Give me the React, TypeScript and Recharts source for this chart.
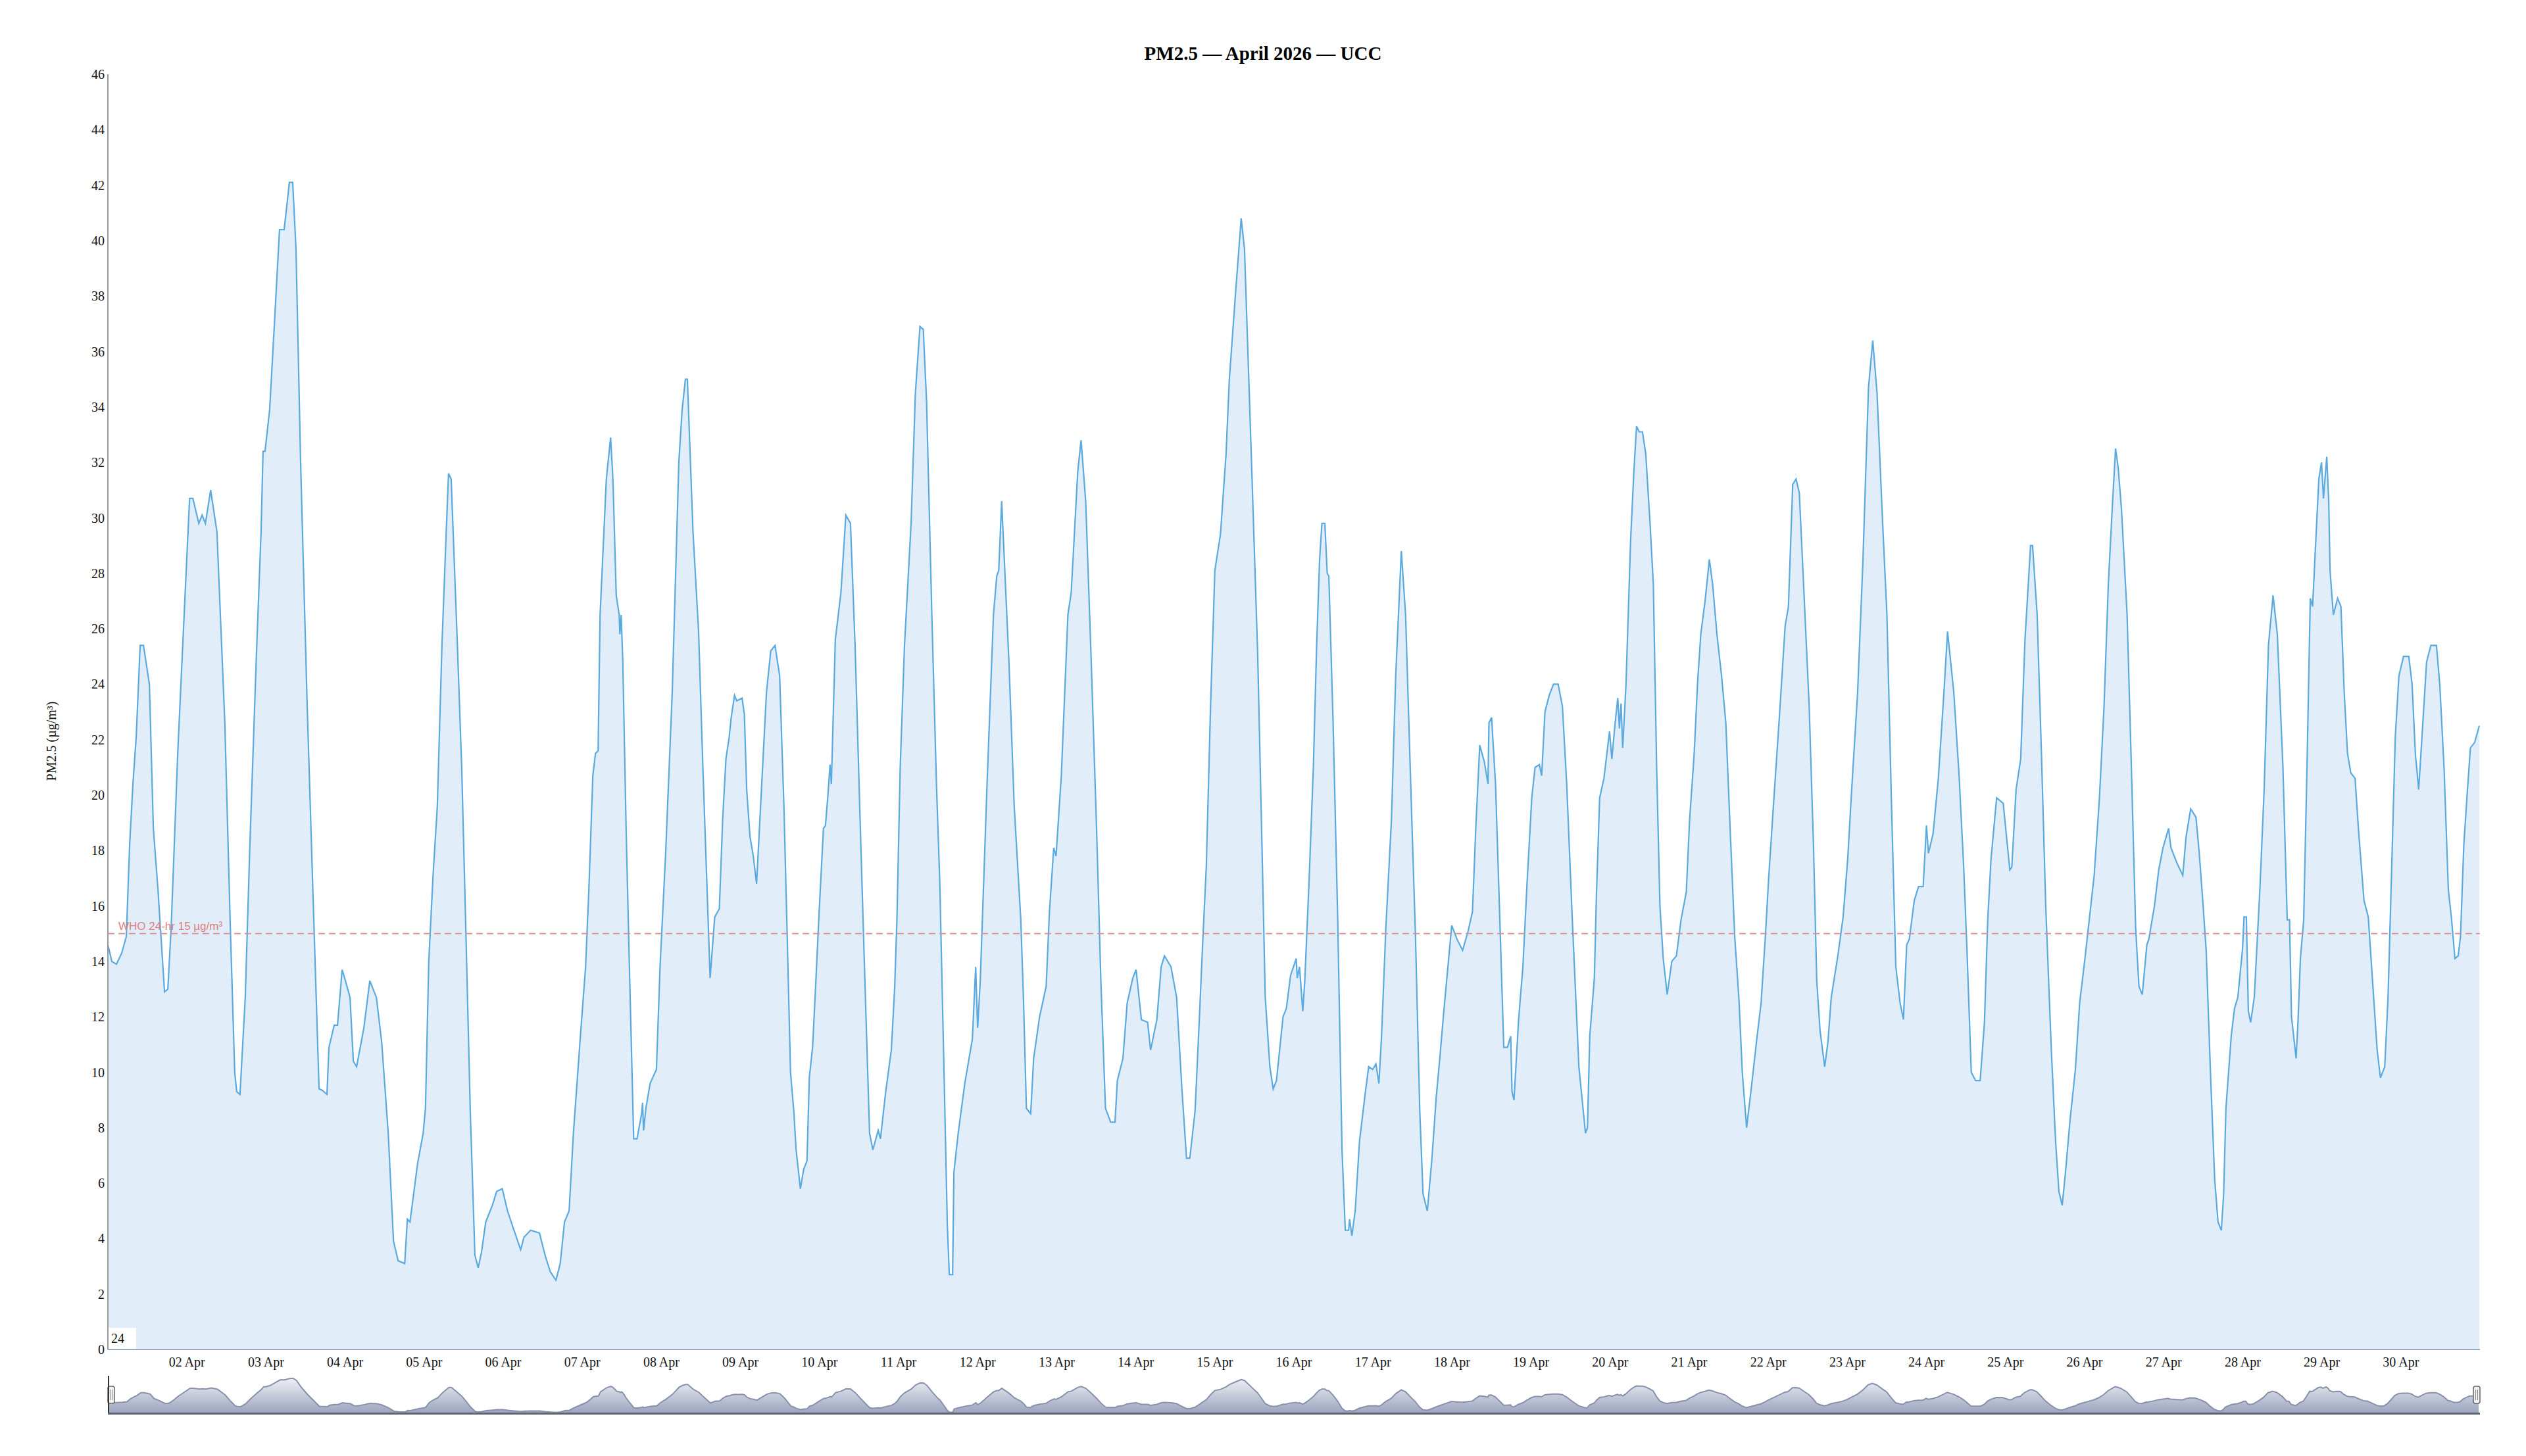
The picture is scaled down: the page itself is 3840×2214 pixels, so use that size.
import React from 'react'
import { AreaChart, Area, XAxis, YAxis, ReferenceLine, Brush } from 'recharts'

// readings as [hours since 01 Apr 00:00, PM2.5 µg/m³]
const apr01to04: [number, number][] = [
  [0, 14.6], [1.2, 14.0], [2.6, 13.9], [4.2, 14.3], [5.6, 14.9], [6.6, 18.2], [7.6, 20.4], [8.6, 22.1],
  [9.8, 25.4], [10.8, 25.4], [12.6, 24.0], [13.8, 18.8], [15.2, 16.6], [17.2, 12.9], [18.2, 13.0],
  [19.2, 15.2], [21.2, 21.5], [22.6, 25.1], [24.8, 30.7], [25.8, 30.7], [27.6, 29.8], [28.6, 30.1],
  [29.6, 29.8], [31.2, 31.0], [33.1, 29.5], [35.5, 22.6], [37.1, 15.5], [38.5, 10.0], [39.1, 9.3],
  [40.1, 9.2], [41.7, 12.7], [43.1, 18.2], [45.1, 25.1], [46.5, 29.5], [47.1, 32.4], [47.7, 32.4],
  [49.1, 33.9], [50.5, 36.9], [52.1, 40.4], [53.5, 40.4], [55.1, 42.1], [56.1, 42.1], [57.1, 39.7],
  [58.5, 32.0], [60.5, 23.2], [62.5, 15.5], [64.1, 9.4], [65.1, 9.35], [66.5, 9.2], [67.1, 10.9],
  [68.7, 11.7], [69.7, 11.7], [71.1, 13.7], [72.1, 13.3], [73.5, 12.7], [74.5, 10.4], [75.5, 10.2],
  [77.7, 11.6], [79.5, 13.3], [81.5, 12.7], [83.1, 11.1], [85.1, 7.8], [86.7, 3.9], [88.1, 3.2],
  [90.1, 3.1], [90.9, 4.7], [91.7, 4.6], [94.0, 6.7], [95.7, 7.8],
]

const apr05to08: [number, number][] = [
  [96.4, 8.7], [97.4, 14.0], [98.7, 17.1], [100.0, 19.6], [101.4, 25.4], [102.7, 29.5], [103.4, 31.6],
  [104.2, 31.4], [106.0, 25.7], [107.4, 21.0], [108.7, 14.9], [110.0, 8.6], [111.4, 3.4], [112.4, 2.95],
  [113.4, 3.5], [114.7, 4.6], [116.7, 5.2], [118.0, 5.7], [119.7, 5.8], [121.3, 5.0], [122.7, 4.5],
  [124.0, 4.05], [125.3, 3.6], [126.3, 4.05], [128.3, 4.3], [131.0, 4.2], [132.7, 3.4], [134.3, 2.8],
  [136.0, 2.5], [137.3, 3.1], [138.6, 4.6], [140.0, 5.0], [141.3, 7.8], [143.3, 11.1], [145.0, 13.8],
  [146.0, 16.6], [147.2, 20.7], [148.0, 21.5], [148.8, 21.6], [149.4, 26.5], [151.3, 31.4], [152.6, 32.9],
  [153.3, 31.4], [154.3, 27.2], [155.2, 26.5], [155.4, 25.8], [155.8, 26.5], [156.3, 24.8], [157.3, 18.8],
  [158.3, 13.8], [159.6, 7.6], [160.6, 7.6], [162.0, 8.5], [162.3, 8.9], [162.6, 7.9], [163.3, 8.7],
  [164.6, 9.6], [166.5, 10.1], [167.6, 13.8], [169.3, 17.9], [171.3, 23.7], [173.3, 32.0], [174.3, 33.9],
  [175.3, 35.0], [175.9, 35.0], [177.6, 29.5], [179.3, 25.9], [180.6, 21.0], [182.8, 13.4], [184.2, 15.6],
  [185.6, 15.9], [186.6, 19.1], [187.6, 21.3], [188.6, 22.1], [189.2, 22.8], [190.2, 23.6], [190.9, 23.4],
]

const apr09to14: [number, number][] = [
  [192.5, 23.5], [193.2, 22.9], [193.9, 20.2], [194.9, 18.5], [195.9, 17.8], [196.9, 16.8], [197.9, 19.1],
  [199.9, 23.7], [201.2, 25.2], [202.5, 25.4], [203.9, 24.3], [205.2, 19.6], [206.2, 14.9], [207.2, 10.0],
  [208.2, 8.6], [208.9, 7.2], [210.2, 5.8], [211.2, 6.5], [212.2, 6.8], [212.9, 9.8], [213.9, 10.9],
  [214.9, 13.3], [215.9, 15.8], [217.2, 18.8], [217.8, 18.9], [218.5, 19.9], [219.2, 21.1], [219.6, 20.4],
  [220.8, 25.6], [222.5, 27.3], [224.0, 30.1], [225.4, 29.8], [226.8, 25.4], [228.2, 19.6], [229.5, 14.4],
  [231.2, 7.8], [232.2, 7.2], [233.8, 7.9], [234.5, 7.6], [236.1, 9.3], [237.8, 10.8], [238.8, 13.0],
  [239.5, 15.5], [240.5, 21.0], [241.8, 25.4], [243.8, 29.8], [245.1, 34.5], [246.5, 36.9], [247.5, 36.8],
  [248.5, 34.2], [250.1, 26.5], [251.5, 20.4], [252.5, 16.9], [253.8, 10.0], [254.8, 4.5], [255.4, 2.7],
  [256.4, 2.7], [256.8, 6.4], [258.1, 7.8], [260.1, 9.6], [262.4, 11.2], [263.4, 13.8], [264.0, 11.6],
  [264.8, 13.3], [266.8, 20.2], [268.8, 26.5], [269.8, 27.9], [270.4, 28.1], [271.3, 30.6], [273.5, 24.8],
  [275.1, 19.6], [277.1, 15.5], [277.9, 12.7], [278.8, 8.7], [280.1, 8.5], [281.0, 10.5], [282.8, 12.0],
  [284.8, 13.1], [285.8, 15.8], [287.1, 18.1], [287.8, 17.8], [289.4, 20.7], [291.4, 26.5], [292.4, 27.3],
  [294.4, 31.7], [295.4, 32.8], [296.8, 30.6], [298.4, 25.1], [300.1, 18.8], [301.4, 13.3], [302.8, 8.7],
  [304.4, 8.2], [305.7, 8.2], [306.4, 9.7], [308.1, 10.5], [309.4, 12.5], [311.1, 13.4], [312.1, 13.7],
  [313.7, 11.9], [315.6, 11.8], [316.5, 10.8], [318.4, 11.9], [319.7, 13.8], [320.7, 14.2], [322.7, 13.8],
  [324.4, 12.7], [326.0, 9.4], [327.4, 6.9], [328.4, 6.9], [330.0, 8.6], [331.4, 12.2], [332.4, 14.9],
  [333.4, 17.4], [334.7, 23.2], [336.0, 28.1],
]

const apr15to21: [number, number][] = [
  [337.7, 29.4], [339.4, 32.3], [340.4, 35.0], [342.4, 38.3], [344.0, 40.8], [345.0, 39.7], [347.0, 32.5],
  [349.0, 25.1], [350.3, 18.2], [351.3, 12.7], [352.7, 10.2], [353.7, 9.4], [354.7, 9.7], [356.7, 12.0],
  [357.7, 12.3], [359.0, 13.5], [360.7, 14.1], [361.0, 13.4], [361.7, 13.8], [362.7, 12.2], [363.3, 13.3],
  [364.6, 16.9], [365.9, 21.0], [366.9, 25.4], [367.8, 28.5], [368.5, 29.8], [369.4, 29.8], [370.1, 28.0],
  [370.6, 27.9], [371.9, 22.6], [373.3, 15.5], [374.6, 7.2], [375.6, 4.3], [376.6, 4.3], [376.9, 4.7],
  [377.6, 4.1], [378.6, 5.0], [379.9, 7.5], [381.6, 9.2], [382.7, 10.2], [383.9, 10.1], [384.9, 10.3],
  [385.8, 9.6], [386.6, 11.3], [387.9, 15.2], [389.6, 19.1], [390.9, 24.3], [392.6, 28.8], [393.9, 26.5],
  [395.5, 20.2], [396.9, 14.9], [398.2, 8.6], [399.2, 5.6], [400.5, 5.0], [401.9, 6.9], [403.2, 9.1],
  [404.2, 10.4], [405.5, 12.2], [407.9, 15.3], [409.5, 14.8], [411.2, 14.4], [412.9, 15.1], [414.2, 15.8],
  [415.2, 18.8], [416.4, 21.8], [417.8, 21.2], [418.9, 20.4], [419.2, 22.6], [420.0, 22.8], [421.2, 20.4],
  [422.5, 15.5], [423.7, 10.9], [424.8, 10.9], [425.8, 11.3], [426.2, 9.3], [426.8, 9.0], [428.2, 11.9],
  [429.5, 13.8], [430.8, 16.9], [432.2, 19.9], [433.2, 21.0], [434.5, 21.1], [435.2, 20.7], [436.2, 23.0],
  [437.5, 23.6], [438.8, 24.0], [440.2, 24.0], [441.5, 23.2], [442.8, 20.4], [444.5, 15.5], [446.5, 10.2],
  [448.5, 7.8], [449.1, 8.0], [449.8, 11.3], [451.2, 13.4], [451.8, 16.3], [452.8, 19.9], [454.1, 20.6],
  [455.8, 22.3], [456.5, 21.3], [457.5, 22.6], [458.3, 23.5], [458.8, 22.4], [459.3, 23.3], [459.8, 21.7],
  [460.8, 24.0], [462.2, 29.2], [463.2, 31.7], [464.0, 33.3], [464.8, 33.1], [465.8, 33.1], [466.8, 32.3],
  [468.1, 29.8], [469.1, 27.6], [470.1, 21.0], [471.1, 16.0], [472.1, 14.1], [473.3, 12.8], [474.7, 14.0],
  [476.1, 14.2], [477.5, 15.5], [479.1, 16.5], [480.1, 19.1], [481.5, 21.5], [482.5, 24.0], [483.5, 25.8],
  [484.8, 27.0], [486.1, 28.5], [487.1, 27.6], [488.4, 25.8], [489.8, 24.3], [491.1, 22.6], [492.4, 18.8],
  [493.8, 14.9], [495.1, 12.6], [496.1, 10.0], [497.4, 8.0], [498.8, 9.4], [500.4, 11.1], [501.8, 12.5],
  [503.1, 14.9],
]

const apr22to30: [number, number][] = [
  [504.1, 17.0], [505.7, 19.9], [507.4, 22.9], [509.1, 26.1], [510.1, 26.8], [511.4, 31.2], [512.4, 31.4],
  [513.4, 30.9], [514.7, 27.6], [516.4, 23.2], [517.7, 18.2], [518.7, 13.3], [519.7, 11.5], [521.1, 10.2],
  [522.1, 11.1], [523.1, 12.7], [525.1, 14.2], [526.7, 15.6], [528.1, 17.7], [529.4, 20.4], [531.1, 23.7],
  [532.7, 28.4], [534.4, 34.7], [535.7, 36.4], [537.0, 34.5], [538.7, 29.8], [540.0, 26.5], [541.4, 19.6],
  [542.7, 13.8], [544.0, 12.5], [545.0, 11.9], [546.0, 14.6], [546.8, 14.8], [548.3, 16.2], [549.6, 16.7],
  [551.0, 16.7], [552.0, 18.9], [552.6, 17.9], [554.0, 18.6], [555.6, 20.6], [557.3, 23.7], [558.4, 25.9],
  [560.3, 23.7], [561.9, 20.7], [563.3, 17.4], [564.3, 14.4], [565.6, 10.0], [566.9, 9.7], [568.3, 9.7],
  [569.6, 11.8], [570.6, 15.5], [571.6, 17.7], [573.3, 19.9], [575.3, 19.7], [576.3, 18.5], [577.3, 17.3],
  [577.9, 17.4], [579.2, 20.2], [580.6, 21.3], [581.9, 25.6], [583.6, 29.0], [584.2, 29.0], [585.6, 26.5],
  [586.9, 21.5], [588.2, 16.0], [589.9, 10.8], [591.2, 7.5], [592.2, 5.7], [593.2, 5.2], [594.2, 6.4],
  [595.6, 8.3], [597.2, 10.1], [598.5, 12.5], [600.2, 14.2], [601.5, 15.6], [602.9, 17.1], [604.5, 19.9],
  [605.9, 23.2], [607.2, 27.6], [608.5, 30.6], [609.4, 32.5], [610.2, 31.8], [611.2, 30.3], [612.9, 26.5],
  [614.2, 21.0], [615.5, 15.2], [616.5, 13.1], [617.5, 12.8], [618.9, 14.6], [619.5, 14.8], [621.2, 16.0],
  [622.5, 17.3], [623.8, 18.1], [625.5, 18.8], [626.2, 18.1], [628.2, 17.5], [629.8, 17.1], [630.8, 18.5],
  [632.2, 19.5], [633.8, 19.2], [634.8, 17.9], [635.8, 16.3], [636.9, 14.4], [638.2, 10.0], [639.5, 6.1],
  [640.5, 4.6], [641.5, 4.3], [642.2, 5.6], [642.9, 8.7], [644.5, 11.3], [645.5, 12.3], [646.5, 12.7],
  [647.9, 14.4], [648.4, 15.6], [649.1, 15.6], [649.7, 12.2], [650.4, 11.8], [651.5, 12.7], [653.2, 16.6],
  [654.5, 20.2], [655.8, 25.4], [657.2, 27.2], [658.5, 25.8], [660.2, 21.0], [661.5, 15.5], [662.2, 15.5],
  [662.8, 12.0], [664.2, 10.5], [664.8, 11.9], [665.5, 14.1], [666.5, 15.5], [667.5, 21.0], [668.5, 27.1],
  [669.2, 26.8], [670.1, 29.0], [671.1, 31.4], [671.9, 32.0], [672.5, 30.7], [673.5, 32.2], [674.1, 30.6],
  [674.5, 28.1], [675.5, 26.5], [676.8, 27.1], [677.8, 26.8], [678.8, 23.7], [679.8, 21.5], [680.8, 20.8],
  [682.1, 20.6], [683.1, 18.8], [684.8, 16.2], [686.1, 15.6], [687.4, 13.3], [688.8, 10.8], [689.8, 9.8],
  [691.1, 10.2], [692.1, 12.7], [693.1, 16.9], [694.3, 22.1], [695.4, 24.3], [696.8, 25.0], [698.4, 25.0],
  [699.4, 24.0], [700.4, 21.5], [701.4, 20.2], [702.4, 22.1], [703.8, 24.8], [705.1, 25.4], [706.8, 25.4],
  [707.8, 24.0], [709.1, 21.0], [710.4, 16.6], [711.4, 15.5], [712.4, 14.1], [713.4, 14.2], [714.1, 14.9],
  [715.1, 18.2], [716.1, 20.0], [717.1, 21.7], [718.4, 21.9], [719.8, 22.5],
]

const dayTicks = [
  24, 48, 72, 96, 120, 144, 168, 192, 216, 240, 264, 288, 312, 336, 360,
  384, 408, 432, 456, 480, 504, 528, 552, 576, 600, 624, 648, 672, 696,
]
const dayLabels = [
  '02 Apr', '03 Apr', '04 Apr', '05 Apr', '06 Apr', '07 Apr', '08 Apr', '09 Apr', '10 Apr', '11 Apr',
  '12 Apr', '13 Apr', '14 Apr', '15 Apr', '16 Apr', '17 Apr', '18 Apr', '19 Apr', '20 Apr', '21 Apr',
  '22 Apr', '23 Apr', '24 Apr', '25 Apr', '26 Apr', '27 Apr', '28 Apr', '29 Apr', '30 Apr',
]
const yTicks = [0, 2, 4, 6, 8, 10, 12, 14, 16, 18, 20, 22, 24, 26, 28, 30, 32, 34, 36, 38, 40, 42, 44, 46]

const WHO_LIMIT = 15

const data = [...apr01to04, ...apr05to08, ...apr09to14, ...apr15to21, ...apr22to30].map(([h, v]) => ({ h, v }))

const serif = '"Liberation Serif", "Times New Roman", serif'
const tickStyle = { fontSize: 20, fill: '#111', fontFamily: serif, style: { fontFamily: serif } }

const Handle = (props: any) => {
  const { x, y, width, height } = props
  const cx = x + width / 2
  const cy = y + height / 2
  return (
    <g>
      <rect x={cx - 5} y={cy - 13} width={10} height={26} rx={3} fill="#f2f2f2" stroke="#666" strokeWidth={1.5} />
      <line x1={cx - 1.5} y1={cy - 8} x2={cx - 1.5} y2={cy + 8} stroke="#888" strokeWidth={1} />
      <line x1={cx + 1.5} y1={cy - 8} x2={cx + 1.5} y2={cy + 8} stroke="#888" strokeWidth={1} />
    </g>
  )
}

export default function App() {
  return (
    <div style={{ position: 'relative', width: 3824, height: 2160, fontFamily: serif, background: '#fff' }}>
      <div
        style={{
          position: 'absolute', top: 56, left: 0, width: 3824, textAlign: 'center',
          fontSize: 29, fontWeight: 'bold', lineHeight: '34px', color: '#000',
        }}
      >
        PM2.5 — April 2026 — UCC
      </div>
      <div
        style={{
          position: 'absolute', left: 70, top: 1119, fontSize: 20, whiteSpace: 'nowrap',
          transform: 'translate(-50%, -50%) rotate(-90deg)', color: '#111',
        }}
      >
        PM2.5 (µg/m³)
      </div>

      <AreaChart
        width={3824}
        height={2160}
        data={data}
        margin={{ top: 105, right: 62, bottom: 16, left: 96 }}
        style={{ fontFamily: serif }}
      >
        <XAxis
          dataKey="h"
          type="number"
          domain={[0, 720]}
          ticks={dayTicks}
          interval={0}
          tickFormatter={(h) => dayLabels[dayTicks.indexOf(h)]}
          tick={tickStyle}
          tickLine={false}
          tickSize={8}
          tickMargin={4}
          height={38}
          stroke="#9aa8bb"
          strokeWidth={2}
        />
        <YAxis
          domain={[0, 46]}
          ticks={yTicks}
          interval={0}
          tick={tickStyle}
          tickLine={false}
          tickSize={3}
          tickMargin={2}
          width={60}
          stroke="#999"
          strokeWidth={2}
        />
        <Area
          type="linear"
          dataKey="v"
          stroke="#5aaadf"
          strokeWidth={2.2}
          fill="#e1eefa"
          fillOpacity={1}
          dot={false}
          activeDot={false}
          isAnimationActive={false}
        />
        <ReferenceLine
          y={WHO_LIMIT}
          stroke="#e38b8b"
          strokeWidth={1.8}
          strokeDasharray="10 6"
          label={(p: any) => (
            <text
              x={p.viewBox.x + 16}
              y={p.viewBox.y - 6}
              fill="#e07d7d"
              fontSize={17}
              fontFamily='"Liberation Sans", Arial, sans-serif'
            >
              WHO 24-hr 15 µg/m³
            </text>
          )}
        />
        <Brush
          dataKey="h"
          y={2082}
          height={62}
          travellerWidth={10}
          stroke="none"
          fill="#fff"
          traveller={(p: any) => <Handle {...p} />}
        >
          <AreaChart data={data}>
            <defs>
              <linearGradient id="panoFill" x1="0" y1="0" x2="0" y2="1">
                <stop offset="0%" stopColor="#eef0f5" />
                <stop offset="100%" stopColor="#98a1bb" />
              </linearGradient>
            </defs>
            <Area
              type="linear"
              dataKey="v"
              stroke="#8890ab"
              strokeWidth={2}
              fill="url(#panoFill)"
              fillOpacity={1}
              dot={false}
              isAnimationActive={false}
            />
          </AreaChart>
        </Brush>
      </AreaChart>

      <div style={{ position: 'absolute', left: 156, top: 2084, width: 2, height: 58, background: '#333' }} />
      <div style={{ position: 'absolute', left: 156, top: 2140, width: 3606, height: 3, background: '#5f6570' }} />
      <div
        style={{
          position: 'absolute', left: 157, top: 2011, width: 42, height: 32, background: '#fff',
          fontSize: 20, lineHeight: '32px', paddingLeft: 4, boxSizing: 'border-box', color: '#111',
        }}
      >
        24
      </div>
    </div>
  )
}
